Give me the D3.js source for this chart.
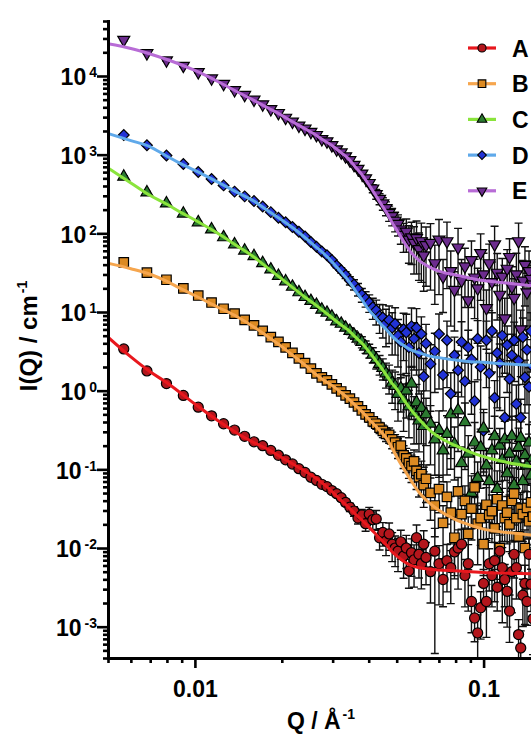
<!DOCTYPE html>
<html><head><meta charset="utf-8">
<script src="https://cdn.jsdelivr.net/npm/d3@7"></script>
<style>
html,body{margin:0;padding:0;background:#fff;}
svg{display:block;}
text{font-family:"Liberation Sans",Arial,Helvetica,sans-serif;font-weight:bold;fill:#000;}
</style></head><body>
<svg id="chart" width="531" height="736"></svg>
<script>
// ---------------- data ----------------
const q = [0.00567,0.00682,0.00797,0.00912,0.01027,0.01142,0.01257,0.01372,0.01487,0.01602,
0.01717,0.01832,0.01947,0.02062,0.02177,0.02292,0.02407,0.02522,0.02637,0.02752,
0.02867,0.02982,0.03097,0.03212,0.03327,0.03442,0.03557,0.03672,0.03787,0.03902,
0.04017,0.04132,0.04247,0.04362,0.04477,0.04592,0.04707,0.04822,0.04937,0.05052,
0.05167,0.05282,0.05397,0.05512,0.05627,0.05742,0.05857,0.05972,0.06087,0.06202,0.06317,
0.06547,0.06777,0.07007,0.07237,0.07467,0.07697,0.07927,0.08157,0.08387,0.08617,
0.08847,0.09077,0.09307,0.09537,0.09767,0.09997,0.10227,0.10457,0.10687,0.10917,
0.11147,0.11377,0.11607,0.11837,0.12067,0.12297,0.12527,0.12757,0.12987,0.13217,
0.13447,0.13677,0.13907,0.14137,0.14367,0.14597,0.14827];

const IA = [3.39,1.78,1.23,0.871,0.617,0.479,0.380,0.316,0.263,0.224,
0.200,0.174,0.151,0.132,0.117,0.102,0.0912,0.0794,0.0724,0.0646,
0.0603,0.0537,0.0490,0.0437,0.0380,0.0331,0.0295,0.0240,0.0263,0.0204,
0.0269,0.0229,0.0234,0.0135,0.0158,0.0123,0.0151,0.0112,0.0100,0.00912,
0.0120,0.00794,0.0100,0.00513,0.00871,0.00708,0.0135,0.00832,0.00631,0.0112,0.00759,
0.00501,0.00912,0.00631,0.00398,0.00692,0.00562,0.00891,0.0100,0.0112,0.00447,
0.00631,0.00209,0.00129,0.000832,0.00174,0.00355,0.00209,0.00631,0.00447,0.00692,
0.00316,0.00912,0.00562,0.00398,0.00282,0.00158,0.00501,0.00832,0.00562,0.000794,
0.000537,0.00251,0.00355,0.00209,0.00832,0.00347,0.00126];

const IB = [42.7,31.6,25.7,20.0,16.2,13.2,11.0,9.55,7.94,6.76,
5.75,4.79,4.17,3.55,3.02,2.57,2.24,1.91,1.66,1.48,
1.35,1.20,1.07,0.977,0.871,0.794,0.708,0.631,0.562,0.501,
0.457,0.407,0.380,0.339,0.309,0.282,0.275,0.240,0.219,0.191,
0.200,0.151,0.138,0.120,0.110,0.126,0.0955,0.0794,0.0871,0.0631,0.0759,
0.0501,0.0347,0.0562,0.0209,0.0447,0.0282,0.0135,0.0525,0.0269,0.0398,
0.0151,0.0316,0.0589,0.0204,0.0240,0.0112,0.0355,0.0263,0.0295,0.0178,
0.0417,0.0100,0.0347,0.0240,0.0282,0.0200,0.0398,0.0490,0.0240,0.0141,
0.0316,0.0269,0.0100,0.0324,0.0219,0.0380,0.0251];

const IC = [525,331,240,178,138,112,89.1,72.4,60.3,51.3,
41.7,34.7,28.8,24.5,20.9,17.8,15.5,13.8,12.3,10.7,
9.77,8.71,7.59,7.08,6.31,5.75,5.13,4.57,4.17,3.63,
3.24,2.88,2.51,2.19,1.95,1.66,1.51,1.26,1.15,0.912,
1.07,0.759,1.00,0.631,1.23,0.525,0.708,0.417,0.603,0.355,0.501,
0.380,0.240,0.316,0.174,0.282,0.501,0.209,0.562,0.120,0.398,
0.158,0.0501,0.219,0.0776,0.191,0.331,0.112,0.0708,0.174,0.263,
0.0562,0.200,0.132,0.240,0.0891,0.158,0.263,0.0631,0.126,0.191,
0.251,0.0708,0.151,0.112,0.219,0.0832,0.141];

const ID = [1780,1320,977,759,603,490,407,339,295,257,
219,186,158,138,120,105,91.2,77.6,67.6,58.9,
52.5,45.7,38.9,33.9,29.5,25.1,22.4,19.5,16.6,14.8,
13.2,11.5,10.5,8.91,8.51,7.24,7.94,6.31,7.08,5.01,
4.17,6.03,5.50,3.55,6.61,4.57,6.31,3.02,5.25,1.51,3.98,
2.19,3.16,5.25,1.58,4.37,0.912,2.82,1.82,4.17,1.32,
3.55,2.51,0.741,4.57,2.00,0.309,4.37,1.66,5.75,0.813,
3.02,2.24,5.01,0.457,3.80,1.41,2.82,4.37,0.676,2.40,
0.457,4.79,1.48,3.31,1.12,5.75,2.00];

const IE = [28800,19500,15800,13500,11200,9330,7940,6610,5750,5010,
4370,3800,3390,2950,2630,2340,2140,1950,1780,1580,
1480,1320,1170,1070,955,851,741,661,575,501,
437,372,316,275,240,209,182,166,145,132,
112,95.5,105,83.2,89.1,75.9,87.1,63.1,79.4,52.5,70.8,
75.9,41.7,83.2,28.2,79.4,33.1,19.1,66.1,25.1,38.0,
14.1,45.7,27.5,20.0,56.2,30.2,11.2,41.7,24.0,72.4,
31.6,16.6,28.2,8.32,35.5,50.1,20.9,15.1,30.2,79.4,
6.03,25.1,39.8,17.8,33.1,26.3,22.4];

// relative uncertainties (sigma / I)
const errA = [0.03,0.03,0.03,0.03,0.03,0.03,0.03,0.03,0.03,0.03,
0.03,0.03,0.03,0.03,0.03,0.03,0.03,0.03,0.03,0.03,
0.06,0.07,0.08,0.09,0.10,0.12,0.14,0.16,0.18,0.20,
0.22,0.25,0.28,0.30,0.33,0.35,0.38,0.40,0.42,0.45,
0.40,0.48,0.45,0.40,0.50,0.55,0.45,0.50,0.52,0.48,0.55,
0.6,0.95,0.7,0.55,0.6,0.65,0.5,0.7,0.55,0.6,
0.75,0.6,0.5,0.7,0.6,0.5,0.65,0.55,0.6,0.7,
0.5,0.6,0.8,0.55,0.65,0.6,0.7,0.5,0.6,0.55,
0.65,0.6,0.7,0.5,0.6,0.55,0.65];
const errB = [0.03,0.03,0.03,0.03,0.03,0.03,0.03,0.03,0.03,0.03,
0.03,0.03,0.03,0.03,0.03,0.03,0.03,0.03,0.03,0.03,
0.04,0.05,0.05,0.06,0.07,0.08,0.09,0.10,0.11,0.12,
0.13,0.14,0.15,0.16,0.18,0.20,0.22,0.24,0.26,0.28,
0.30,0.32,0.34,0.36,0.38,0.40,0.42,0.44,0.46,0.48,0.50,
0.55,0.6,0.5,0.65,0.55,0.6,0.7,0.5,0.6,0.55,
0.65,0.6,0.5,0.7,0.55,0.6,0.65,0.5,0.6,0.7,
0.55,0.6,0.65,0.5,0.6,0.55,0.7,0.6,0.5,0.65,
0.6,0.55,0.7,0.6,0.5,0.65,0.6];
const errC = [0.03,0.03,0.03,0.03,0.03,0.03,0.03,0.03,0.03,0.03,
0.03,0.03,0.03,0.03,0.03,0.03,0.03,0.03,0.03,0.03,
0.04,0.05,0.06,0.07,0.08,0.10,0.12,0.14,0.16,0.18,
0.2,0.22,0.25,0.28,0.3,0.35,0.4,0.45,0.5,0.55,
0.5,0.6,0.55,0.6,0.65,0.6,0.7,0.6,0.65,0.7,0.6,
0.7,0.65,0.75,0.6,0.7,0.8,0.65,0.7,0.6,0.75,
0.7,0.65,0.8,0.6,0.7,0.75,0.65,0.7,0.6,0.8,
0.7,0.65,0.75,0.7,0.6,0.7,0.8,0.65,0.7,0.75,
0.6,0.7,0.65,0.8,0.7,0.6,0.75];
const errD = [0.03,0.03,0.03,0.03,0.03,0.03,0.03,0.03,0.03,0.03,
0.03,0.03,0.03,0.03,0.03,0.03,0.03,0.03,0.03,0.03,
0.04,0.05,0.06,0.08,0.10,0.12,0.15,0.18,0.2,0.22,
0.25,0.3,0.35,0.4,0.45,0.5,0.5,0.55,0.6,0.6,
0.65,0.6,0.7,0.65,0.7,0.6,0.75,0.7,0.65,0.7,0.75,
0.75,0.7,0.8,0.65,0.75,0.85,0.7,0.75,0.8,0.7,
0.65,0.8,0.75,0.7,0.85,0.7,0.75,0.8,0.7,0.65,
0.8,0.75,0.7,0.8,0.75,0.7,0.85,0.7,0.75,0.8,
0.7,0.75,0.65,0.8,0.75,0.7,0.8];
const errE = [0.03,0.03,0.03,0.03,0.03,0.03,0.03,0.03,0.03,0.03,
0.03,0.03,0.03,0.03,0.03,0.03,0.03,0.03,0.03,0.03,
0.03,0.03,0.04,0.04,0.05,0.05,0.06,0.07,0.08,0.09,
0.1,0.12,0.14,0.16,0.18,0.2,0.22,0.25,0.28,0.3,
0.35,0.4,0.45,0.5,0.55,0.6,0.65,0.6,0.7,0.65,0.7,
0.75,0.7,0.8,0.65,0.75,0.8,0.7,0.75,0.85,0.7,
0.8,0.75,0.7,0.8,0.75,0.85,0.7,0.75,0.8,0.7,
0.75,0.85,0.7,0.8,0.75,0.7,0.8,0.75,0.85,0.7,
0.75,0.8,0.7,0.75,0.8,0.7,0.75];

// fitted model curves
const fitQ = [0.005,0.006,0.007,0.008,0.009,0.010,0.012,0.014,0.016,0.018,0.020,0.022,0.024,0.026,0.028,0.030,0.032,0.034,0.036,0.038,0.040,0.042,0.044,0.046,0.048,0.050,0.053,0.056,0.060,0.065,0.070,0.080,0.090,0.100,0.120,0.150];
const fitA = [4.79,2.69,1.74,1.26,0.912,0.676,0.417,0.288,0.219,0.178,0.141,0.115,0.0955,0.0794,0.0646,0.0513,0.0407,0.0331,0.0269,0.0224,0.0186,0.0155,0.0129,0.0110,0.00912,0.00794,0.00676,0.00603,0.00562,0.00537,0.00525,0.00513,0.00501,0.00490,0.00479,0.00468];
const fitB = [41.7,35.5,30.2,24.5,19.5,16.2,11.5,8.71,6.46,4.79,3.63,2.75,2.14,1.66,1.35,1.15,0.955,0.794,0.646,0.537,0.437,0.363,0.302,0.251,0.191,0.145,0.100,0.0724,0.0501,0.0372,0.0302,0.0229,0.0195,0.0174,0.0158,0.0145];
const fitC = [676,437,302,234,182,148,100,69.2,50.1,35.5,26.3,20.0,15.5,12.6,10.2,8.32,6.92,5.89,4.79,3.98,3.16,2.51,2.00,1.58,1.26,1.05,0.759,0.575,0.427,0.316,0.257,0.200,0.166,0.145,0.123,0.107];
const fitD = [1860,1510,1260,955,759,631,447,331,257,191,148,115,89.1,69.2,55.0,42.7,32.4,25.1,18.6,14.1,10.7,8.71,7.08,6.03,5.01,4.37,3.72,3.31,3.02,2.75,2.63,2.45,2.34,2.29,2.19,2.09];
const fitE = [25700,22400,19050,16200,13800,11750,8510,6310,4900,3890,3160,2570,2140,1820,1510,1290,1070,891,692,550,417,316,240,186,141,110,77.6,57.5,44.7,37.2,33.1,29.5,26.9,25.1,23.4,21.4];

const seriesNames = ["A","B","C","D","E"];
const yMajorTicks = [1e-3,1e-2,1e-1,1,10,100,1000,10000];
const yTickExponents = ["-3","-2","-1","0","1","2","3","4"];
const xMajorTicks = [0.01,0.1];
const xTickLabels = ["0.01","0.1"];

// ---------------- drawing ----------------
const W = 531, H = 736;
const X0 = 108, YB = 658;
const x = d3.scaleLog().domain([0.005,0.2]).range([X0,570.5]);
const y = d3.scaleLog().domain([4e-4,5e4]).range([YB,21]);

const styles = {
  A:{line:"#e8171d", fill:"#b3161c", sym:d3.symbolCircle,   size:80, rot:0},
  B:{line:"#f6a64e", fill:"#dc8a22", sym:d3.symbolSquare,   size:90, rot:0},
  C:{line:"#8ae43c", fill:"#2b7a30", sym:d3.symbolTriangle, size:62, rot:0},
  D:{line:"#5fa9ea", fill:"#2233d6", sym:d3.symbolSquare,   size:58, rot:45},
  E:{line:"#b86cd6", fill:"#6c2c8e", sym:d3.symbolTriangle, size:62, rot:180}
};
const series = [
  {name:"A", I:IA, err:errA, fit:fitA},
  {name:"B", I:IB, err:errB, fit:fitB},
  {name:"C", I:IC, err:errC, fit:fitC},
  {name:"D", I:ID, err:errD, fit:fitD},
  {name:"E", I:IE, err:errE, fit:fitE}
];
const drawOrder = series.slice().reverse(); // E at the back, A in front

const svg = d3.select("#chart");
svg.append("rect").attr("width",W).attr("height",H).attr("fill","#fff");
svg.append("defs").append("clipPath").attr("id","plotClip")
  .append("rect").attr("x",X0).attr("y",0).attr("width",W-X0+10).attr("height",YB);

const plot = svg.append("g").attr("clip-path","url(#plotClip)");

// error bars
const gErr = plot.append("g");
drawOrder.forEach(s=>{
  const n = Math.min(q.length, s.I.length, s.err.length);
  let d = "";
  for (let i=0;i<n;i++){
    const xi = x(q[i]);
    const v = s.I[i], r = s.err[i];
    const yt = y(v*(1+r));
    const yb = (1-r) > 0 ? Math.min(y(v*(1-r)), YB+5) : YB+5;
    d += `M${xi},${yt}V${yb}M${xi-4},${yt}H${xi+4}`;
    if (yb < YB) d += `M${xi-4},${yb}H${xi+4}`;
  }
  gErr.append("path").attr("d",d).attr("fill","none").attr("stroke","#111").attr("stroke-width",1.4);
});

// markers
const gPts = plot.append("g");
drawOrder.forEach(s=>{
  const st = styles[s.name];
  const n = Math.min(q.length, s.I.length);
  const pts = d3.range(n).map(i=>({q:q[i], I:s.I[i]}));
  const sym = d3.symbol().type(st.sym).size(st.size)();
  gPts.append("g").selectAll("path").data(pts).join("path")
    .attr("d",sym)
    .attr("transform",d=>`translate(${x(d.q)},${y(d.I)}) rotate(${st.rot})`)
    .attr("fill",st.fill).attr("stroke","#000").attr("stroke-width",1.2);
});

// fitted lines
const line = d3.line().x(d=>x(d[0])).y(d=>y(d[1])).curve(d3.curveMonotoneX);
const gFit = plot.append("g");
drawOrder.forEach(s=>{
  gFit.append("path").datum(fitQ.map((qq,i)=>[qq,s.fit[i]]))
    .attr("d",line).attr("fill","none").attr("stroke",styles[s.name].line)
    .attr("stroke-width",3).attr("stroke-linecap","round");
});

// ---------------- axes ----------------
const minorY = [];
for (let e=-4;e<=4;e++) for (let k=2;k<=9;k++){
  const v = k*Math.pow(10,e);
  if (v >= 4e-4*0.999 && v <= 5e4*1.001) minorY.push(v);
}
const minorX = [];
for (let e=-3;e<=-1;e++) for (let k=2;k<=9;k++){
  const v = k*Math.pow(10,e);
  if (v >= 0.005*0.999 && v <= 0.2*1.001) minorX.push(v);
}

const yMinor = svg.append("g").attr("transform",`translate(${X0},0)`)
  .call(d3.axisLeft(y).tickValues(minorY).tickSize(5).tickSizeOuter(0).tickFormat(""));
yMinor.select(".domain").remove();
const yMajor = svg.append("g").attr("transform",`translate(${X0},0)`)
  .call(d3.axisLeft(y).tickValues(yMajorTicks).tickSize(11).tickSizeOuter(0).tickPadding(1));
const xMinor = svg.append("g").attr("transform",`translate(0,${YB})`)
  .call(d3.axisBottom(x).tickValues(minorX).tickSize(5).tickSizeOuter(0).tickFormat(""));
xMinor.select(".domain").remove();
const xMajor = svg.append("g").attr("transform",`translate(0,${YB})`)
  .call(d3.axisBottom(x).tickValues(xMajorTicks).tickSize(10).tickSizeOuter(0).tickPadding(13)
        .tickFormat((d,i)=>xTickLabels[i]));

[yMinor,yMajor,xMinor,xMajor].forEach(g=>{
  g.selectAll(".tick line").attr("stroke","#000").attr("stroke-width",2.6);
  g.select(".domain").attr("stroke","#000").attr("stroke-width",3).attr("stroke-linecap","square");
});
xMajor.selectAll(".tick text").attr("font-size",23).attr("font-weight","bold")
  .attr("font-family",'"Liberation Sans",Arial,sans-serif').attr("fill","#000");

yMajor.selectAll(".tick text").each(function(d,i){
  const t = d3.select(this);
  t.text(null).attr("font-size",23).attr("font-weight","bold")
   .attr("font-family",'"Liberation Sans",Arial,sans-serif').attr("fill","#000")
   .attr("dy","0.38em").attr("x",-11);
  t.append("tspan").text("10");
  t.append("tspan").attr("font-size",14).attr("dx",3).attr("dy",-8).text(yTickExponents[i]);
});

// axis titles
const xt = svg.append("text").attr("x",321).attr("y",729).attr("text-anchor","middle").attr("font-size",23);
xt.append("tspan").text("Q / Å");
xt.append("tspan").attr("font-size",14).attr("dx",2).attr("dy",-10).text("-1");

const yt = svg.append("text").attr("transform","translate(37,336) rotate(-90)").attr("text-anchor","middle").attr("font-size",24);
yt.append("tspan").text("I(Q) / cm");
yt.append("tspan").attr("font-size",14).attr("dx",2).attr("dy",-10).text("-1");

// ---------------- legend ----------------
const leg = svg.append("g");
seriesNames.forEach((nm,i)=>{
  const st = styles[nm];
  const ly = 48 + i*35.7;
  const g = leg.append("g").attr("transform",`translate(0,${ly})`);
  g.append("line").attr("x1",468).attr("x2",496).attr("y1",0).attr("y2",0)
    .attr("stroke",st.line).attr("stroke-width",3.2);
  g.append("path").attr("d",d3.symbol().type(st.sym).size(st.size*0.65)())
    .attr("transform",`translate(482,0) rotate(${st.rot})`)
    .attr("fill",st.fill).attr("stroke","#000").attr("stroke-width",1.1);
  g.append("text").attr("x",512).attr("y",8.5).attr("font-size",23).text(nm);
});
</script>
</body></html>
